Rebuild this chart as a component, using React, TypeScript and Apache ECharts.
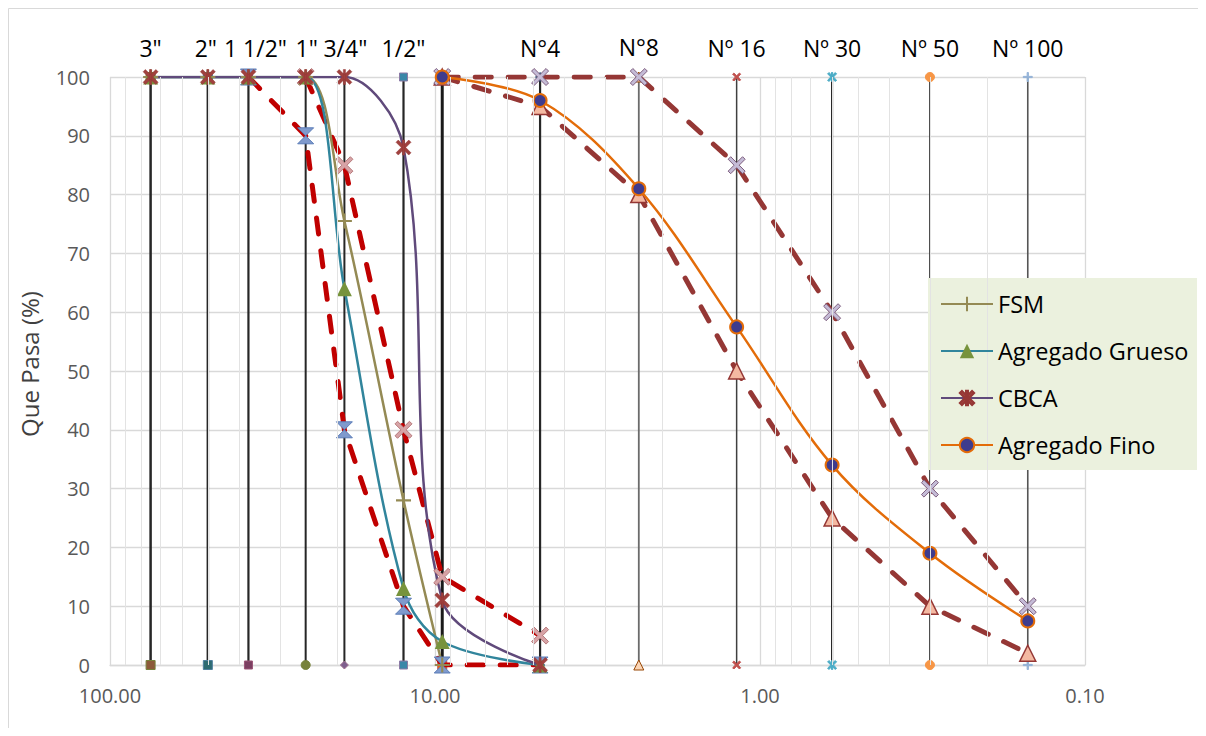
import React, { useEffect, useRef } from "react";
import * as echarts from "echarts";

// ---------- data ----------
const sieveNames = ['3"', '2"', '1 1/2"', '1"', '3/4"', '1/2"', '', 'N°4', 'N°8', 'Nº 16', 'Nº 30', 'Nº 50', 'Nº 100'];
const sieveSizes = [75, 50, 37.5, 25, 19, 12.5, 9.5, 4.75, 2.36, 1.18, 0.6, 0.3, 0.15];

const coarseSizes = [75, 50, 37.5, 25, 19, 12.5, 9.5, 4.75];
const fsm = [100, 100, 100, 100, 75.5, 28, 0];
const agregadoGrueso = [100, 100, 100, 100, 64, 13, 4, 0];
const cbca = [100, 100, 100, 100, 100, 88, 11, 0];

const fineSizes = [9.5, 4.75, 2.36, 1.18, 0.6, 0.3, 0.15];
const agregadoFino = [100, 96, 81, 57.5, 34, 19, 7.5];
const fineLower = [100, 95, 80, 50, 25, 10, 2];
const fineUpper = [100, 100, 100, 85, 60, 30, 10];

const coarseLowerSizes = [37.5, 25, 19, 12.5, 9.5, 4.75];
const coarseLower = [100, 90, 40, 10, 0, 0];
const coarseUpperSizes = [25, 19, 12.5, 9.5, 4.75];
const coarseUpper = [100, 85, 40, 15, 5];

const minorGrid = [90, 80, 70, 60, 50, 40, 30, 20, 9, 8, 7, 6, 5, 4, 3, 2, 0.9, 0.8, 0.7, 0.6, 0.5, 0.4, 0.3, 0.2];

const legendNames = ["FSM", "Agregado Grueso", "CBCA", "Agregado Fino"];

// ---------- symbols ----------
const PLUS = "path://M4.3,0H5.7V4.3H10V5.7H5.7V10H4.3V5.7H0V4.3H4.3Z";
const XMARK = "path://M0,1.5L1.5,0L5,3.5L8.5,0L10,1.5L6.5,5L10,8.5L8.5,10L5,6.5L1.5,10L0,8.5L3.5,5Z";
const STAR = "path://M0,1.5L1.5,0L5,3.5L8.5,0L10,1.5L6.5,5L10,8.5L8.5,10L5,6.5L1.5,10L0,8.5L3.5,5Z M4.3,0H5.7V10H4.3Z";
const HOURGLASS = "path://M0,0H10L5,5L10,10H0L5,5Z";

const FONT = "'Open Sans', 'Noto Sans', sans-serif";

const sieveStyles = [
  { line: "#262626", width: 2.5, symbol: "rect", size: 9, fill: "#8C5A3A", border: "#77823A", dx: 0 },
  { line: "#262626", width: 2.5, symbol: "rect", size: 9, fill: "#2D6B72", border: "#4F7F9F", dx: -2 },
  { line: "#262626", width: 2.2, symbol: "rect", size: 8, fill: "#7B3F61", border: "#9C5577", dx: 7 },
  { line: "#262626", width: 2, symbol: "circle", size: 9, fill: "#77823A", border: "#77823A", dx: 1 },
  { line: "#262626", width: 2, symbol: "diamond", size: 8, fill: "#7E5F8E", border: "#A0708E", dx: 1 },
  { line: "#262626", width: 2.2, symbol: "rect", size: 8, fill: "#3A87A8", border: "#8C7BA6", dx: 0 },
  { line: "#1a1a1a", width: 3, symbol: "rect", size: 9, fill: "#E46C0A", border: "#C0504D", dx: 0 },
  { line: "#262626", width: 2.2, symbol: "diamond", size: 9, fill: "#215968", border: "#1F497D", dx: 0 },
  { line: "#6b6b6b", width: 1.8, symbol: "triangle", size: 10, fill: "#FBD5B5", border: "#984807", dx: 0 },
  { line: "#404040", width: 1.5, symbol: XMARK, size: 8, fill: "#C0504D", border: "#C0504D", dx: 0 },
  { line: "#111111", width: 2, symbol: STAR, size: 9, fill: "#4BACC6", border: "#4BACC6", dx: 0 },
  { line: "#333333", width: 1.6, symbol: "circle", size: 9, fill: "#F79646", border: "#F79646", dx: 0 },
  { line: "#555555", width: 1.6, symbol: PLUS, size: 9, fill: "#95B3D7", border: "#95B3D7", dx: 0 },
];

const pair = (xs: number[], ys: number[]) => ys.map((y, i) => [xs[i], y]);

export default function App() {
  const ref = useRef<HTMLDivElement>(null);

  useEffect(() => {
    if (!ref.current) return;
    const chart = echarts.init(ref.current, null, { renderer: "svg" });

    const verticalSeries = sieveSizes.map((s, i) => {
      const st = sieveStyles[i];
      return {
        type: "line",
        name: "tamiz" + i,
        z: 2,
        silent: true,
        data: [
          { value: [s, 0] },
          {
            value: [s, 100],
            label: {
              show: sieveNames[i] !== "",
              formatter: sieveNames[i],
              position: "top",
              distance: 13,
              offset: [st.dx, 0],
              fontSize: 23,
              color: "#000",
              fontFamily: FONT,
            },
          },
        ],
        lineStyle: { color: st.line, width: st.width },
        symbol: st.symbol,
        symbolSize: st.size,
        itemStyle: { color: st.fill, borderColor: st.border, borderWidth: 1 },
        label: { show: false },
      };
    });

    const dash = [16, 17];

    const option: any = {
      animation: false,
      textStyle: { fontFamily: FONT },
      grid: { left: 102, top: 69, right: 113, bottom: 63 },
      xAxis: {
        type: "log",
        logBase: 10,
        min: 0.1,
        max: 100,
        inverse: true,
        axisLine: { show: true, lineStyle: { color: "#d9d9d9", width: 1.3 } },
        axisTick: { show: false },
        axisLabel: {
          color: "#595959",
          fontSize: 20,
          margin: 20,
          fontFamily: FONT,
          formatter: (v: number) => v.toFixed(2),
        },
        splitLine: { show: true, lineStyle: { color: "#d9d9d9", width: 1.3 } },
      },
      yAxis: {
        type: "value",
        min: 0,
        max: 100,
        interval: 10,
        name: "Que Pasa (%)",
        nameLocation: "middle",
        nameGap: 69,
        nameTextStyle: { fontSize: 24, color: "#404040", fontFamily: FONT, padding: [0, 0, 0, 14] },
        axisLine: { show: false },
        axisTick: { show: false },
        axisLabel: { color: "#595959", fontSize: 20, margin: 20, fontFamily: FONT },
        splitLine: { show: true, lineStyle: { color: "#d9d9d9", width: 1.3 } },
      },
      legend: {
        data: legendNames,
        orient: "vertical",
        left: 920,
        top: 270,
        padding: [13, 0, 0, 12],
        itemWidth: 52,
        itemHeight: 18,
        itemGap: 21,
        textStyle: { fontSize: 23.5, color: "#000", lineHeight: 26, fontFamily: FONT },
        z: 6,
        selectedMode: false,
      },
      graphic: [
        { type: "line", shape: { x1: 0.5, y1: 0.5, x2: 1190, y2: 0.5 }, style: { stroke: "#d9d9d9", lineWidth: 1 } },
        { type: "line", shape: { x1: 0.5, y1: 0.5, x2: 0.5, y2: 720 }, style: { stroke: "#d9d9d9", lineWidth: 1 } },
        { type: "rect", z: 5, shape: { x: 920, y: 270, width: 269, height: 192 }, style: { fill: "#EBF1DE" } },
      ],
      series: [
        {
          type: "line",
          name: "minor",
          data: [],
          z: 1,
          silent: true,
          markLine: {
            silent: true,
            symbol: "none",
            label: { show: false },
            animation: false,
            lineStyle: { color: "#e3e3e3", width: 1, type: "solid" },
            data: minorGrid.map((v) => ({ xAxis: v })),
          },
        },
        ...verticalSeries,
        {
          type: "line",
          name: "limite inferior grueso",
          z: 3,
          data: pair(coarseLowerSizes, coarseLower),
          lineStyle: { color: "#C00000", width: 5, type: dash, cap: "round" },
          symbol: HOURGLASS,
          symbolSize: 16,
          itemStyle: { color: "#7F9ACD", borderColor: "#5B7DB8", borderWidth: 1 },
        },
        {
          type: "line",
          name: "limite superior grueso",
          z: 3,
          data: pair(coarseUpperSizes, coarseUpper),
          lineStyle: { color: "#C00000", width: 5, type: dash, cap: "round" },
          symbol: XMARK,
          symbolSize: 17,
          itemStyle: { color: "#D7A3A6", borderColor: "#B77A7C", borderWidth: 1 },
        },
        {
          type: "line",
          name: "FSM",
          z: 3,
          data: pair(coarseSizes, fsm),
          smooth: 0.35,
          lineStyle: { color: "#948A54", width: 2.5 },
          symbol: PLUS,
          symbolSize: 15,
          itemStyle: { color: "#948A54", borderColor: "#948A54", borderWidth: 0 },
        },
        {
          type: "line",
          name: "Agregado Grueso",
          z: 3,
          data: pair(coarseSizes, agregadoGrueso),
          smooth: 0.35,
          lineStyle: { color: "#31859C", width: 2.5 },
          symbol: "triangle",
          symbolSize: 15,
          itemStyle: { color: "#77933C", borderColor: "#77933C", borderWidth: 0 },
        },
        {
          type: "line",
          name: "CBCA",
          z: 3,
          data: pair(coarseSizes, cbca),
          smooth: 0.35,
          lineStyle: { color: "#604A7B", width: 2.5 },
          symbol: STAR,
          symbolSize: 15,
          itemStyle: { color: "#A0413E", borderColor: "#953735", borderWidth: 0.5 },
        },
        {
          type: "line",
          name: "limite inferior fino",
          z: 3,
          data: pair(fineSizes, fineLower),
          lineStyle: { color: "#953735", width: 5, type: dash, cap: "round" },
          symbol: "triangle",
          symbolSize: 16,
          itemStyle: { color: "#F4B9A2", borderColor: "#953735", borderWidth: 1.5 },
        },
        {
          type: "line",
          name: "limite superior fino",
          z: 3,
          data: pair(fineSizes, fineUpper),
          lineStyle: { color: "#953735", width: 5, type: dash, cap: "round" },
          symbol: XMARK,
          symbolSize: 17,
          itemStyle: { color: "#C4BBD6", borderColor: "#7F5F7F", borderWidth: 1 },
        },
        {
          type: "line",
          name: "Agregado Fino",
          z: 4,
          data: pair(fineSizes, agregadoFino),
          smooth: 0.35,
          lineStyle: { color: "#E36C09", width: 2.5 },
          symbol: "circle",
          symbolSize: 13,
          itemStyle: { color: "#3E3C8E", borderColor: "#E36C09", borderWidth: 2 },
        },
      ],
    };

    chart.setOption(option);
    return () => chart.dispose();
  }, []);

  return <div ref={ref} style={{ width: 1190, height: 720 }} />;
}
